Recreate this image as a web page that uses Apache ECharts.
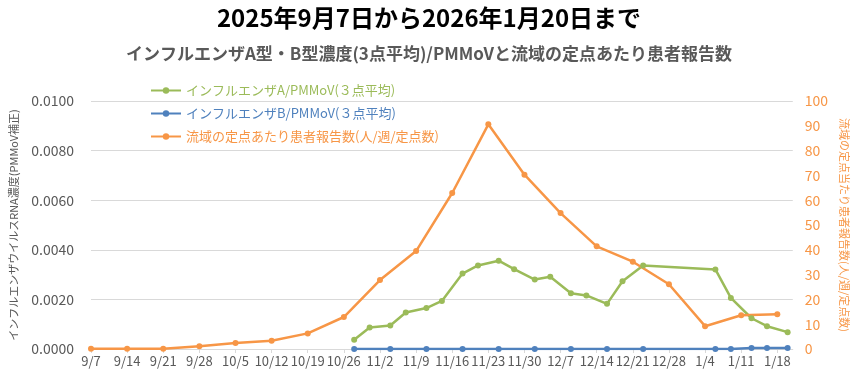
<!DOCTYPE html>
<html>
<head>
<meta charset="utf-8">
<script src="https://cdn.jsdelivr.net/npm/echarts@6/dist/echarts.min.js"></script>
<style>
html,body{margin:0;padding:0;background:#fff;}
#c{width:858px;height:389px;}
</style>
</head>
<body>
<div id="c"></div>
<script>
// ---- data ----
const startDate = '2025-09-07';
const endDate = '2026-01-21';

const seriesNames = [
  'インフルエンザA/PMMoV(３点平均)',
  'インフルエンザB/PMMoV(３点平均)',
  '流域の定点あたり患者報告数(人/週/定点数)'
];

const greenDates = ['2025-10-28','2025-10-31','2025-11-04','2025-11-07','2025-11-11','2025-11-14','2025-11-18','2025-11-21','2025-11-25','2025-11-28','2025-12-02','2025-12-05','2025-12-09','2025-12-12','2025-12-16','2025-12-19','2025-12-23','2026-01-06','2026-01-09','2026-01-13','2026-01-16','2026-01-20'];
const greenValues = [0.00037,0.00087,0.00095,0.00147,0.00165,0.00194,0.00304,0.00337,0.00356,0.00322,0.00280,0.00291,0.00225,0.00216,0.00182,0.00273,0.00337,0.00321,0.00206,0.00124,0.00092,0.00068];

const blueDates = ['2025-10-28','2025-11-04','2025-11-11','2025-11-18','2025-11-25','2025-12-02','2025-12-09','2025-12-16','2025-12-23','2026-01-06','2026-01-09','2026-01-13','2026-01-16','2026-01-20'];
const blueValues = [0,0,0,0,0,0,0,0,0,0,0,0.00004,0.00004,0.00004];

const orangeDates = ['2025-09-07','2025-09-14','2025-09-21','2025-09-28','2025-10-05','2025-10-12','2025-10-19','2025-10-26','2025-11-02','2025-11-09','2025-11-16','2025-11-23','2025-11-30','2025-12-07','2025-12-14','2025-12-21','2025-12-28','2026-01-04','2026-01-11','2026-01-18'];
const orangeValues = [0.1,0.1,0.1,1.1,2.4,3.3,6.3,12.9,27.8,39.5,62.9,90.6,70.3,54.8,41.4,35.2,26.1,9.2,13.6,14.0];

const leftTicks = {min:0, max:0.01, interval:0.002};
const rightTicks = {min:0, max:100, interval:10};

// ---- helpers ----
const DAY = 86400000;
function toUTC(s){const p=s.split('-').map(Number);return Date.UTC(p[0],p[1]-1,p[2]);}
const t0 = toUTC(startDate);
function dayOf(s){return Math.round((toUTC(s)-t0)/DAY);}
function pairs(dates, vals){return dates.map((d,i)=>[dayOf(d), vals[i]]);}
function labelOf(day){
  if (day % 7 !== 0) return '';
  const d = new Date(t0 + day*DAY);
  return (d.getUTCMonth()+1) + '/' + d.getUTCDate();
}

const FONT = '"Noto Sans CJK JP", "Noto Sans", sans-serif';
const GREEN = '#9BBB59', BLUE = '#4F81BD', ORANGE = '#F79646', GRAY = '#595959';

const chart = echarts.init(document.getElementById('c'), null, {renderer:'canvas'});
chart.setOption({
  animation:false,
  backgroundColor:'#fff',
  textStyle:{fontFamily:FONT},
  title:[
    {text:'2025年9月7日から2026年1月20日まで', left:'center', top:1,
     textStyle:{fontFamily:FONT, fontSize:24, fontWeight:'bold', color:'#000'}},
    {text:'インフルエンザA型・B型濃度(3点平均)/PMMoVと流域の定点あたり患者報告数', left:'center', top:40,
     textStyle:{fontFamily:FONT, fontSize:17, fontWeight:'bold', color:GRAY}}
  ],
  legend:{
    orient:'vertical', left:150, top:84, padding:0, itemGap:10, itemWidth:30, itemHeight:8,
    data:[
      {name:seriesNames[0], textStyle:{color:GREEN}},
      {name:seriesNames[1], textStyle:{color:BLUE}},
      {name:seriesNames[2], textStyle:{color:ORANGE}}
    ],
    textStyle:{fontFamily:FONT, fontSize:13}
  },
  grid:{left:88, right:57, top:101, bottom:40},
  xAxis:{
    type:'value', min:0, max:dayOf(endDate), interval:7,
    axisLine:{show:true, lineStyle:{color:'#d9d9d9', width:1}},
    axisTick:{show:true, length:4, lineStyle:{color:'#d9d9d9'}},
    splitLine:{show:false},
    axisLabel:{formatter:labelOf, color:GRAY, fontSize:13, margin:6, fontFamily:FONT, showMaxLabel:false}
  },
  yAxis:[
    {type:'value', min:leftTicks.min, max:leftTicks.max, interval:leftTicks.interval,
     name:'インフルエンザウイルスRNA濃度(PMMoV補正)', nameLocation:'middle', nameRotate:90, nameGap:72,
     nameTextStyle:{color:GRAY, fontSize:11, fontFamily:FONT},
     axisLine:{show:false}, axisTick:{show:false},
     splitLine:{lineStyle:{color:'#d9d9d9', width:1}},
     axisLabel:{formatter:v=>v.toFixed(4), color:GRAY, fontSize:14, margin:17, fontFamily:FONT}},
    {type:'value', min:rightTicks.min, max:rightTicks.max, interval:rightTicks.interval, position:'right',
     name:'流域の定点当たり患者報告数(人/週/定点数)', nameLocation:'middle', nameRotate:-90, nameGap:42,
     nameTextStyle:{color:ORANGE, fontSize:11, fontFamily:FONT},
     axisLine:{show:false}, axisTick:{show:false}, splitLine:{show:false},
     axisLabel:{color:ORANGE, fontSize:14, margin:12, fontFamily:FONT}}
  ],
  series:[
    {name:seriesNames[0], type:'line', yAxisIndex:0, data:pairs(greenDates, greenValues),
     symbol:'circle', symbolSize:6, itemStyle:{color:GREEN}, lineStyle:{color:GREEN, width:2.5}},
    {name:seriesNames[1], type:'line', yAxisIndex:0, data:pairs(blueDates, blueValues),
     symbol:'circle', symbolSize:6, itemStyle:{color:BLUE}, lineStyle:{color:BLUE, width:2.5}},
    {name:seriesNames[2], type:'line', yAxisIndex:1, data:pairs(orangeDates, orangeValues),
     symbol:'circle', symbolSize:6, itemStyle:{color:ORANGE}, lineStyle:{color:ORANGE, width:2.5}}
  ]
});
</script>
</body>
</html>
